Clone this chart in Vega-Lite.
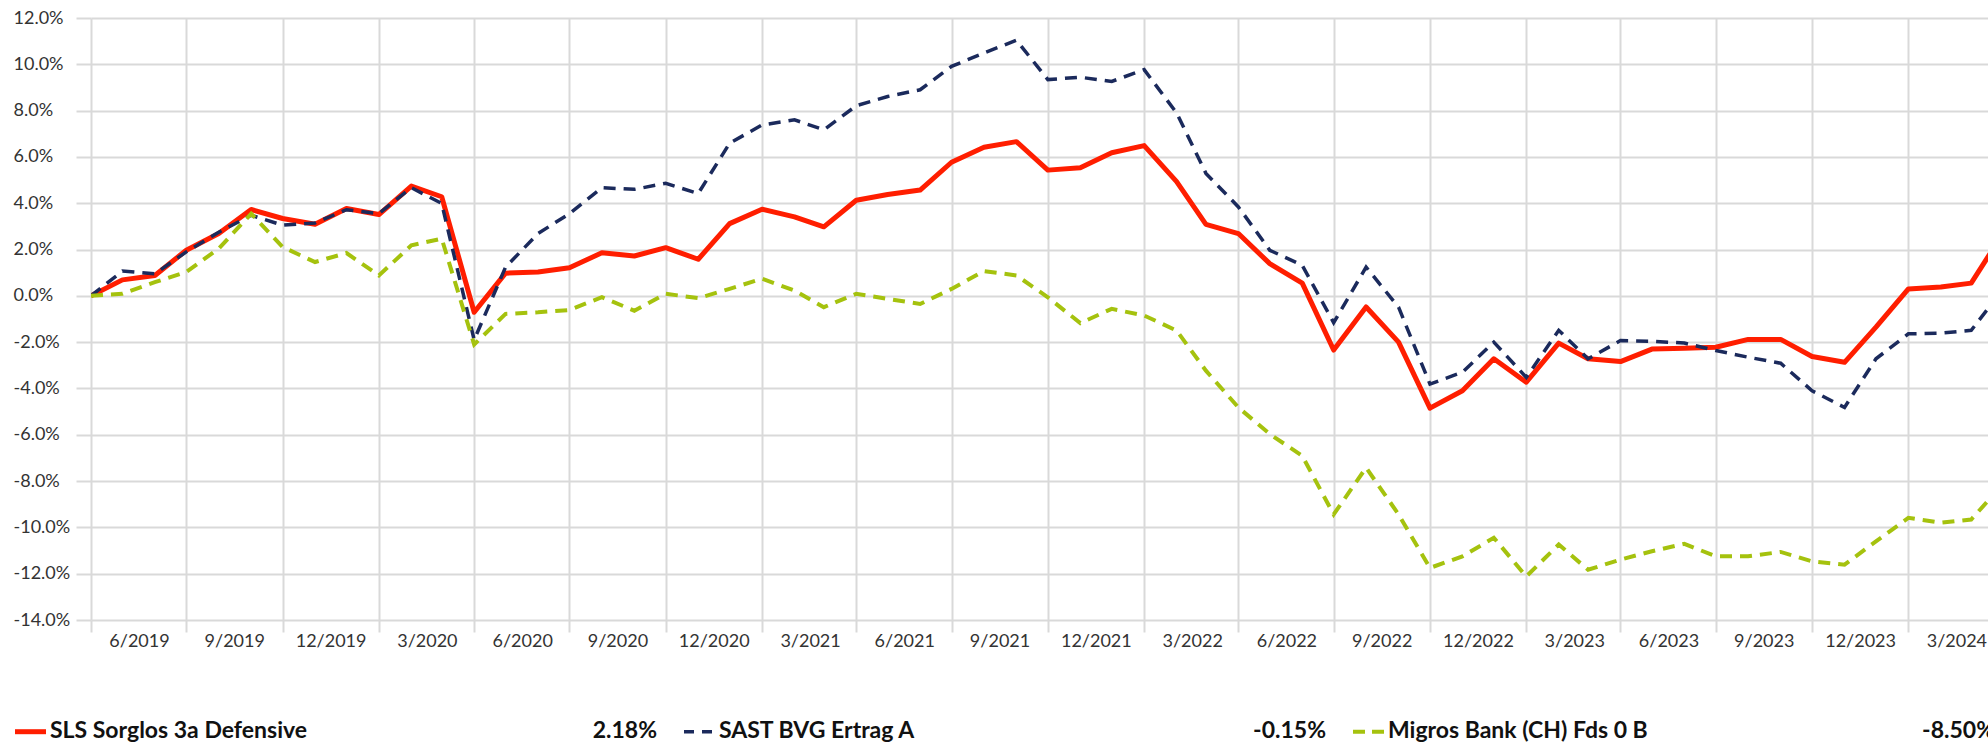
{
  "$schema": "https://vega.github.io/schema/vega-lite/v6.json",
  "padding": {"left": 12, "top": 9, "right": 0, "bottom": 0},
  "spacing": 67,
  "config": {"view": {"stroke": null}, "font": "Lato", "background": "white"},
  "datasets": {
    "perf": [
      {"date": "2019-03-31T00:00:00", "sls": 0, "sast": 0, "migros": 0},
      {"date": "2019-04-30T00:00:00", "sls": 0.69, "sast": 1.07, "migros": 0.09},
      {"date": "2019-05-31T00:00:00", "sls": 0.88, "sast": 0.95, "migros": 0.59},
      {"date": "2019-06-30T00:00:00", "sls": 1.97, "sast": 1.9, "migros": 1.03},
      {"date": "2019-07-31T00:00:00", "sls": 2.69, "sast": 2.75, "migros": 2.04},
      {"date": "2019-08-31T00:00:00", "sls": 3.73, "sast": 3.48, "migros": 3.55},
      {"date": "2019-09-30T00:00:00", "sls": 3.34, "sast": 3.05, "migros": 2.11},
      {"date": "2019-10-31T00:00:00", "sls": 3.09, "sast": 3.15, "migros": 1.46},
      {"date": "2019-11-30T00:00:00", "sls": 3.77, "sast": 3.72, "migros": 1.85},
      {"date": "2019-12-31T00:00:00", "sls": 3.51, "sast": 3.55, "migros": 0.88},
      {"date": "2020-01-31T00:00:00", "sls": 4.74, "sast": 4.67, "migros": 2.18},
      {"date": "2020-02-29T00:00:00", "sls": 4.28, "sast": 3.99, "migros": 2.47},
      {"date": "2020-03-31T00:00:00", "sls": -0.71, "sast": -1.9, "migros": -2.1},
      {"date": "2020-04-30T00:00:00", "sls": 0.98, "sast": 1.24, "migros": -0.78},
      {"date": "2020-05-31T00:00:00", "sls": 1.03, "sast": 2.69, "migros": -0.71},
      {"date": "2020-06-30T00:00:00", "sls": 1.21, "sast": 3.55, "migros": -0.61},
      {"date": "2020-07-31T00:00:00", "sls": 1.86, "sast": 4.67, "migros": -0.06},
      {"date": "2020-08-31T00:00:00", "sls": 1.72, "sast": 4.6, "migros": -0.64},
      {"date": "2020-09-30T00:00:00", "sls": 2.08, "sast": 4.86, "migros": 0.09},
      {"date": "2020-10-31T00:00:00", "sls": 1.58, "sast": 4.42, "migros": -0.1},
      {"date": "2020-11-30T00:00:00", "sls": 3.12, "sast": 6.59, "migros": 0.3},
      {"date": "2020-12-31T00:00:00", "sls": 3.74, "sast": 7.38, "migros": 0.74},
      {"date": "2021-01-31T00:00:00", "sls": 3.41, "sast": 7.6, "migros": 0.23},
      {"date": "2021-02-28T00:00:00", "sls": 2.98, "sast": 7.17, "migros": -0.49},
      {"date": "2021-03-31T00:00:00", "sls": 4.13, "sast": 8.21, "migros": 0.09},
      {"date": "2021-04-30T00:00:00", "sls": 4.38, "sast": 8.61, "migros": -0.13},
      {"date": "2021-05-31T00:00:00", "sls": 4.57, "sast": 8.9, "migros": -0.35},
      {"date": "2021-06-30T00:00:00", "sls": 5.77, "sast": 9.91, "migros": 0.3},
      {"date": "2021-07-31T00:00:00", "sls": 6.42, "sast": 10.49, "migros": 1.07},
      {"date": "2021-08-31T00:00:00", "sls": 6.66, "sast": 11.04, "migros": 0.88},
      {"date": "2021-09-30T00:00:00", "sls": 5.43, "sast": 9.34, "migros": -0.06},
      {"date": "2021-10-31T00:00:00", "sls": 5.53, "sast": 9.44, "migros": -1.18},
      {"date": "2021-11-30T00:00:00", "sls": 6.18, "sast": 9.26, "migros": -0.56},
      {"date": "2021-12-31T00:00:00", "sls": 6.49, "sast": 9.77, "migros": -0.85},
      {"date": "2022-01-31T00:00:00", "sls": 4.93, "sast": 7.9, "migros": -1.5},
      {"date": "2022-02-28T00:00:00", "sls": 3.09, "sast": 5.29, "migros": -3.23},
      {"date": "2022-03-31T00:00:00", "sls": 2.69, "sast": 3.84, "migros": -4.82},
      {"date": "2022-04-30T00:00:00", "sls": 1.39, "sast": 1.97, "migros": -5.97},
      {"date": "2022-05-31T00:00:00", "sls": 0.55, "sast": 1.32, "migros": -6.91},
      {"date": "2022-06-30T00:00:00", "sls": -2.34, "sast": -1.16, "migros": -9.44},
      {"date": "2022-07-31T00:00:00", "sls": -0.48, "sast": 1.24, "migros": -7.42},
      {"date": "2022-08-31T00:00:00", "sls": -2.0, "sast": -0.49, "migros": -9.44},
      {"date": "2022-09-30T00:00:00", "sls": -4.85, "sast": -3.81, "migros": -11.75},
      {"date": "2022-10-31T00:00:00", "sls": -4.1, "sast": -3.3, "migros": -11.25},
      {"date": "2022-11-30T00:00:00", "sls": -2.72, "sast": -2.0, "migros": -10.45},
      {"date": "2022-12-31T00:00:00", "sls": -3.73, "sast": -3.52, "migros": -12.12},
      {"date": "2023-01-31T00:00:00", "sls": -2.04, "sast": -1.49, "migros": -10.74},
      {"date": "2023-02-28T00:00:00", "sls": -2.72, "sast": -2.72, "migros": -11.83},
      {"date": "2023-03-31T00:00:00", "sls": -2.84, "sast": -1.93, "migros": -11.39},
      {"date": "2023-04-30T00:00:00", "sls": -2.3, "sast": -1.96, "migros": -11.03},
      {"date": "2023-05-31T00:00:00", "sls": -2.26, "sast": -2.04, "migros": -10.71},
      {"date": "2023-06-30T00:00:00", "sls": -2.22, "sast": -2.36, "migros": -11.25},
      {"date": "2023-07-31T00:00:00", "sls": -1.88, "sast": -2.65, "migros": -11.25},
      {"date": "2023-08-31T00:00:00", "sls": -1.88, "sast": -2.91, "migros": -11.06},
      {"date": "2023-09-30T00:00:00", "sls": -2.62, "sast": -4.1, "migros": -11.47},
      {"date": "2023-10-31T00:00:00", "sls": -2.87, "sast": -4.82, "migros": -11.61},
      {"date": "2023-11-30T00:00:00", "sls": -1.35, "sast": -2.72, "migros": -10.6},
      {"date": "2023-12-31T00:00:00", "sls": 0.3, "sast": -1.64, "migros": -9.59},
      {"date": "2024-01-31T00:00:00", "sls": 0.38, "sast": -1.61, "migros": -9.8},
      {"date": "2024-02-29T00:00:00", "sls": 0.55, "sast": -1.49, "migros": -9.66},
      {"date": "2024-03-23T00:00:00", "sls": 2.18, "sast": -0.15, "migros": -8.5}
    ],
    "legend": [
      {"name": "SLS Sorglos 3a Defensive", "perf": "2.18%"},
      {"name": "SAST BVG Ertrag A", "perf": "-0.15%"},
      {"name": "Migros Bank (CH) Fds 0 B", "perf": "-8.50%"}
    ]
  },
  "vconcat": [
    {
      "width": 1898,
      "height": 602,
      "data": {"name": "perf"},
      "encoding": {
        "x": {
          "field": "date",
          "type": "temporal",
          "title": null,
          "scale": {"domain": [{"year": 2019, "month": 3, "date": 31}, {"year": 2024, "month": 3, "date": 17}]},
          "axis": {
            "values": [
              {"year": 2019, "month": 3, "date": 31}, {"year": 2019, "month": 6, "date": 30}, {"year": 2019, "month": 9, "date": 30}, {"year": 2019, "month": 12, "date": 31},
              {"year": 2020, "month": 3, "date": 31}, {"year": 2020, "month": 6, "date": 30}, {"year": 2020, "month": 9, "date": 30}, {"year": 2020, "month": 12, "date": 31},
              {"year": 2021, "month": 3, "date": 31}, {"year": 2021, "month": 6, "date": 30}, {"year": 2021, "month": 9, "date": 30}, {"year": 2021, "month": 12, "date": 31},
              {"year": 2022, "month": 3, "date": 31}, {"year": 2022, "month": 6, "date": 30}, {"year": 2022, "month": 9, "date": 30}, {"year": 2022, "month": 12, "date": 31},
              {"year": 2023, "month": 3, "date": 31}, {"year": 2023, "month": 6, "date": 30}, {"year": 2023, "month": 9, "date": 30}, {"year": 2023, "month": 12, "date": 31}
            ],
            "labelExpr": "((month(datum.value) + 3) % 12 + 1) + '/' + (year(datum.value) + (month(datum.value) >= 9 ? 1 : 0))",
            "grid": true,
            "gridColor": "#d9d9d9",
            "gridWidth": 2,
            "domain": false,
            "ticks": true,
            "tickSize": 12,
            "tickWidth": 2,
            "tickColor": "#d9d9d9",
            "labelOffset": 48,
            "labelPadding": 0,
            "labelFont": "Lato",
            "labelFontSize": 18,
            "labelColor": "#333333",
            "labelOverlap": false,
            "labelBound": false,
            "labelFlush": false
          }
        }
      },
      "layer": [
        {
          "mark": {"type": "line", "color": "#FF1E00", "strokeWidth": 5, "strokeJoin": "round", "clip": true},
          "encoding": {
            "y": {
              "field": "sls",
              "type": "quantitative",
              "title": null,
              "scale": {"domain": [-14, 12], "nice": false, "zero": false},
              "axis": {
                "values": [-14, -12, -10, -8, -6, -4, -2, 0, 2, 4, 6, 8, 10, 12],
                "labelExpr": "(datum.value < 0 ? '-' : '') + format(abs(datum.value), '.1f') + '%'",
                "grid": true,
                "gridColor": "#d9d9d9",
                "gridWidth": 2,
                "domain": false,
                "tickSize": 15,
                "tickWidth": 2,
                "tickColor": "#d9d9d9",
                "labelAlign": "left",
                "labelBaseline": "middle",
                "labelPadding": 63,
                "labelFont": "Lato",
                "labelFontSize": 18,
                "labelColor": "#333333",
                "labelOverlap": false,
                "labelBound": false,
                "labelFlush": false
              }
            }
          }
        },
        {
          "mark": {"type": "line", "color": "#1B2A5C", "strokeWidth": 3.5, "strokeDash": [12, 8], "clip": true},
          "encoding": {"y": {"field": "sast", "type": "quantitative"}}
        },
        {
          "mark": {"type": "line", "color": "#A5C20E", "strokeWidth": 4, "strokeDash": [12, 8], "clip": true},
          "encoding": {"y": {"field": "migros", "type": "quantitative"}}
        }
      ]
    },
    {
      "width": 1898,
      "height": 21,
      "data": {"name": "legend"},
      "encoding": {
        "x": {
          "field": "name",
          "type": "nominal",
          "sort": null,
          "bandPosition": 0,
          "scale": {"type": "band", "range": [-76, 1931], "paddingInner": 0, "paddingOuter": 0},
          "axis": null
        },
        "y": {"datum": 0, "type": "quantitative", "scale": {"domain": [0, 1]}, "axis": null}
      },
      "layer": [
        {
          "transform": [{"filter": "datum.name == 'SLS Sorglos 3a Defensive'"}],
          "mark": {"type": "rule", "color": "#FF1E00", "strokeWidth": 5, "x2Offset": 31},
          "encoding": {"x2": {"field": "name", "bandPosition": 0}, "y": {"datum": 0.3, "type": "quantitative"}}
        },
        {
          "transform": [{"filter": "datum.name == 'SAST BVG Ertrag A'"}],
          "mark": {"type": "rule", "color": "#1B2A5C", "strokeWidth": 3.5, "strokeDash": [10, 8], "x2Offset": 31},
          "encoding": {"x2": {"field": "name", "bandPosition": 0}, "y": {"datum": 0.3, "type": "quantitative"}}
        },
        {
          "transform": [{"filter": "datum.name == 'Migros Bank (CH) Fds 0 B'"}],
          "mark": {"type": "rule", "color": "#A5C20E", "strokeWidth": 4, "strokeDash": [12, 7], "x2Offset": 31},
          "encoding": {"x2": {"field": "name", "bandPosition": 0}, "y": {"datum": 0.3, "type": "quantitative"}}
        },
        {
          "mark": {"type": "text", "align": "left", "baseline": "alphabetic", "dx": 35, "font": "Lato", "fontWeight": "bold", "fontSize": 23, "color": "#111111"},
          "encoding": {"text": {"field": "name"}}
        },
        {
          "mark": {"type": "text", "align": "right", "baseline": "alphabetic", "dx": 642, "font": "Lato", "fontWeight": "bold", "fontSize": 23, "color": "#111111", "clip": true},
          "encoding": {"text": {"field": "perf"}}
        }
      ]
    }
  ]
}
